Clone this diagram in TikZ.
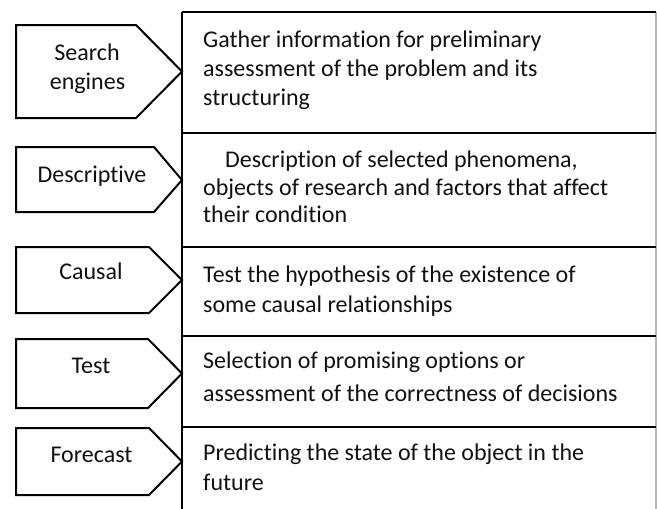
\documentclass[tikz,border=0pt]{standalone}
\usepackage{fontspec}
\setmainfont{Carlito}[Ligatures={NoCommon,NoRequired,NoContextual},RawFeature={-liga;-clig;-dlig}]
\definecolor{rgray}{HTML}{B4B4B4}
\definecolor{txt}{HTML}{111111}
\tikzset{
  pent/.style={draw=black, line width=2pt, line join=miter, fill=white},
  tline/.style={draw=black, line width=2pt},
  rline/.style={draw=rgray, line width=1.2pt},
  lbl/.style={anchor=base, inner sep=0pt, text=txt, font=\fontsize{24}{29.3}\selectfont},
  rtxt/.style={anchor=base west, inner sep=0pt, text=txt, font=\fontsize{24}{29.3}\selectfont},
}
\newcommand\mypent[5]{% name, top, bottom, shoulder, tip y
  \coordinate (#1tip) at (182,#5);
  \draw[pent] (16,#2) -- (#4,#2) -- (#1tip) -- (#4,#3) -- (16,#3) -- cycle;
}
\begin{document}
\begin{tikzpicture}[x=1pt,y=-1pt]
\useasboundingbox (0,0) rectangle (657,509);
% table frame
\coordinate (tl) at (182,12);
\coordinate (bl) at (182,509);
\coordinate (tr) at (656,12);
\coordinate (br) at (656,509);
\draw[rline] (tr) -- (br);
\foreach \y/\n in {133/s1,247/s2,336/s3,427/s4}{
  \coordinate (\n l) at (182,\y);
  \coordinate (\n r) at (656,\y);
  \draw[tline] (\n l) -- (\n r);
}
\draw[tline] (tl) -- (tr);
\draw[tline] (tl) -- (bl);
% pentagons
\mypent{p1}{25}{118}{136}{71.5}
\mypent{p2}{147}{212}{154}{180}
\mypent{p3}{247}{313}{149}{280}
\mypent{p4}{339}{408}{148}{373.5}
\mypent{p5}{428}{495}{149}{461.5}
% labels
\node[lbl] (l1a) at (87,60) {Search};
\node[lbl] (l1b) at (87.5,89) {engines};
\node[lbl] (l2) at (92,182) {Descriptive};
\node[lbl] (l3) at (91,279) {Causal};
\node[lbl] (l4) at (91,373) {Test};
\node[lbl] (l5) at (91.5,462) {Forecast};
% row texts
\node[rtxt] (r1a) at (203,47) {Gather information for preliminary};
\node[rtxt] (r1b) at (203,76) {assessment of the problem and its};
\node[rtxt] (r1c) at (203,105) {structuring};
\node[rtxt] (r2a) at (225,167) {Description of selected phenomena,};
\node[rtxt] (r2b) at (203,195) {objects of research and factors that affect};
\node[rtxt] (r2c) at (203,222) {their condition};
\node[rtxt] (r3a) at (203,282) {Test the hypothesis of the existence of};
\node[rtxt] (r3b) at (203,312) {some causal relationships};
\node[rtxt] (r4a) at (203,368) {Selection of promising options or};
\node[rtxt] (r4b) at (203,401) {assessment of the correctness of decisions};
\node[rtxt] (r5a) at (203,460) {Predicting the state of the object in the};
\node[rtxt] (r5b) at (203,490) {future};
\end{tikzpicture}
\end{document}
